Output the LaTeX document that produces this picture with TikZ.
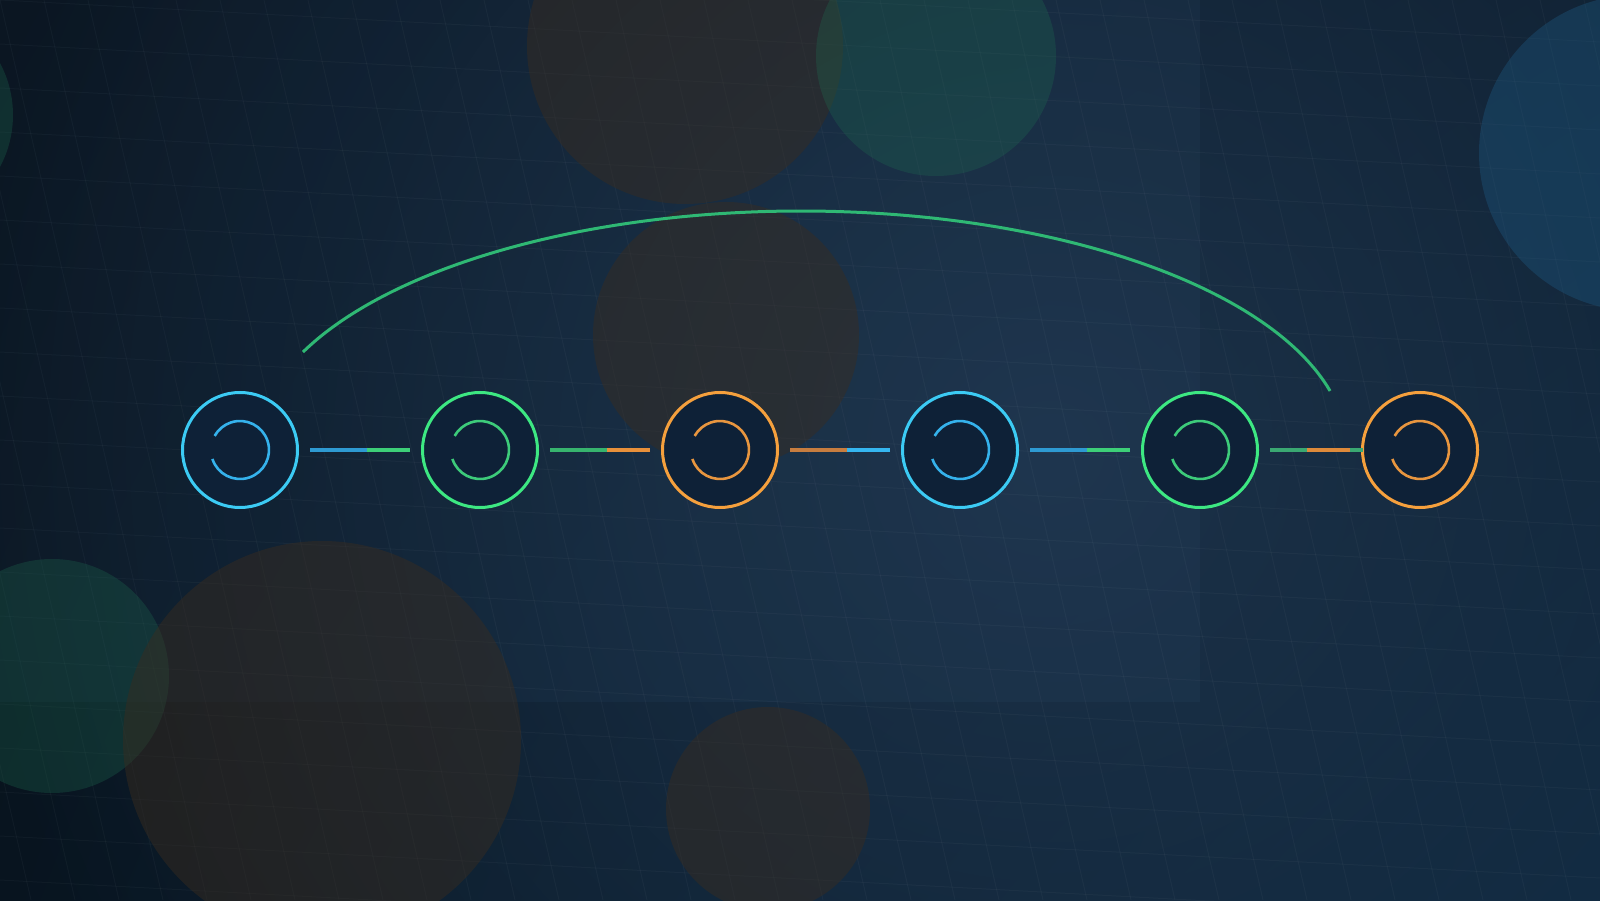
\documentclass[tikz,border=0pt]{standalone}
\usetikzlibrary{fadings,shadings}
\definecolor{bgUL}{HTML}{07101A}
\definecolor{bgUR}{HTML}{0C1C2C}
\definecolor{bgLL}{HTML}{08141F}
\definecolor{bgLR}{HTML}{0D283F}
\definecolor{glowc}{HTML}{1C3249}
\definecolor{nodefill}{HTML}{0E2137}
\definecolor{ringBlue}{HTML}{3CCBF4}
\definecolor{ringGreen}{HTML}{3DE882}
\definecolor{ringOrange}{HTML}{F5A03D}
\definecolor{innerBlue}{HTML}{35B2EC}
\definecolor{innerGreen}{HTML}{3DCB7A}
\definecolor{innerOrange}{HTML}{E8963F}
\definecolor{connBlueD}{HTML}{2E9AD2}
\definecolor{connBlue}{HTML}{35B6F0}
\definecolor{connGreen}{HTML}{3DCF78}
\definecolor{connGreenD}{HTML}{37B46E}
\definecolor{connGreenE}{HTML}{3AA872}
\definecolor{connOrange}{HTML}{E8903A}
\definecolor{connOrangeD}{HTML}{C77D3F}
\definecolor{connOrangeE}{HTML}{DE8A3A}
\definecolor{arcGreen}{HTML}{2FB874}
\definecolor{bokehBrown}{HTML}{3B2C1E}
\definecolor{bokehGreen}{HTML}{1E6B50}
\definecolor{bokehBlue}{HTML}{1E5C86}
\definecolor{panelc}{HTML}{5A90C8}
\tikzfading[name=glowfade, inner color=transparent!0, outer color=transparent!100]
\begin{document}
\begin{tikzpicture}[x=0.5pt,y=0.5pt,
  ring/.style={circle, draw, line width=1.5pt, minimum size=57.5pt, inner sep=0pt, outer sep=0pt, fill=nodefill},
  innerarc/.style={line width=1.3pt},
  conn/.style={line width=2.3pt},
  gridline/.style={white, opacity=0.03, line width=0.5pt},
  bokehO/.style={fill=bokehBrown, fill opacity=0.45},
  bokehG/.style={fill=bokehGreen, fill opacity=0.3},
  bokehB/.style={fill=bokehBlue, fill opacity=0.36},
  bigarc/.style={draw=arcGreen, line width=1.5pt}
]
\useasboundingbox (0,0) rectangle (1600,900);
\begin{scope}
\clip (0,0) rectangle (1600,900);
\shade[upper left=bgUL, upper right=bgUR, lower left=bgLL, lower right=bgLR] (0,0) rectangle (1600,900);
\fill[glowc, path fading=glowfade] (1050,450) circle (1100);
% faint grid
\foreach \i in {-8,...,40} \draw[gridline] ({\i*44},900) -- ({\i*44+207},0);
\foreach \j in {-4,...,24} \draw[gridline] (0,{900-\j*44}) -- (1600,{814-\j*44});
% overlay panel
\fill[panelc, opacity=0.05] (0,198) rectangle (1200,900);
% bokeh circles
\fill[bokehO] (685,854) circle (158);
\fill[bokehG] (936,844) circle (120);
\fill[bokehO] (726,565) circle (133);
\fill[bokehB] (1637,747) circle (158);
\fill[bokehG] (-97,785) circle (110);
\fill[bokehG] (52,224) circle (117);
\fill[bokehO] (322,160) circle (199);
\fill[bokehO] (768,91) circle (102);
\end{scope}
% nodes
\node[ring, draw=ringBlue] (n1) at (240,450) {};
\node[ring, draw=ringGreen] (n2) at (480,450) {};
\node[ring, draw=ringOrange] (n3) at (720,450) {};
\node[ring, draw=ringBlue] (n4) at (960,450) {};
\node[ring, draw=ringGreen] (n5) at (1200,450) {};
\node[ring, draw=ringOrange] (n6) at (1420,450) {};
% inner open arcs
\foreach \n/\c in {n1/innerBlue, n2/innerGreen, n3/innerOrange, n4/innerBlue, n5/innerGreen, n6/innerOrange}
  \draw[innerarc, draw=\c] ([shift={(198:29)}]\n.center) arc[start angle=198, end angle=511, radius=29];
% connectors
\draw[conn, draw=connBlueD] ([xshift=6.25pt]n1.east) -- ++(58,0);
\draw[conn, draw=connGreen] ([xshift=-6.25pt]n2.west) -- ++(-43,0);
\draw[conn, draw=connGreenD] ([xshift=6.25pt]n2.east) -- ++(58,0);
\draw[conn, draw=connOrange] ([xshift=-6.25pt]n3.west) -- ++(-43,0);
\draw[conn, draw=connOrangeD] ([xshift=6.25pt]n3.east) -- ++(58,0);
\draw[conn, draw=connBlue] ([xshift=-6.25pt]n4.west) -- ++(-43,0);
\draw[conn, draw=connBlueD] ([xshift=6.25pt]n4.east) -- ++(58,0);
\draw[conn, draw=connGreen] ([xshift=-6.25pt]n5.west) -- ++(-43,0);
\draw[conn, draw=connGreenE] ([xshift=6.25pt]n5.east) -- ++(58,0);
\draw[conn, draw=connOrangeE] ([xshift=-6.25pt]n6.west) -- ++(-43,0);
\draw[conn, draw=connGreenE] (n6.west) -- ++(-12.5,0);
% big arc
\coordinate (arcS) at (303,548);
\coordinate (arcE) at (1330,509);
\draw[bigarc] plot[domain=155.8:14.3, samples=120, smooth] ({801+546*cos(\x)}, {450+239*sin(\x)});
\end{tikzpicture}
\end{document}
